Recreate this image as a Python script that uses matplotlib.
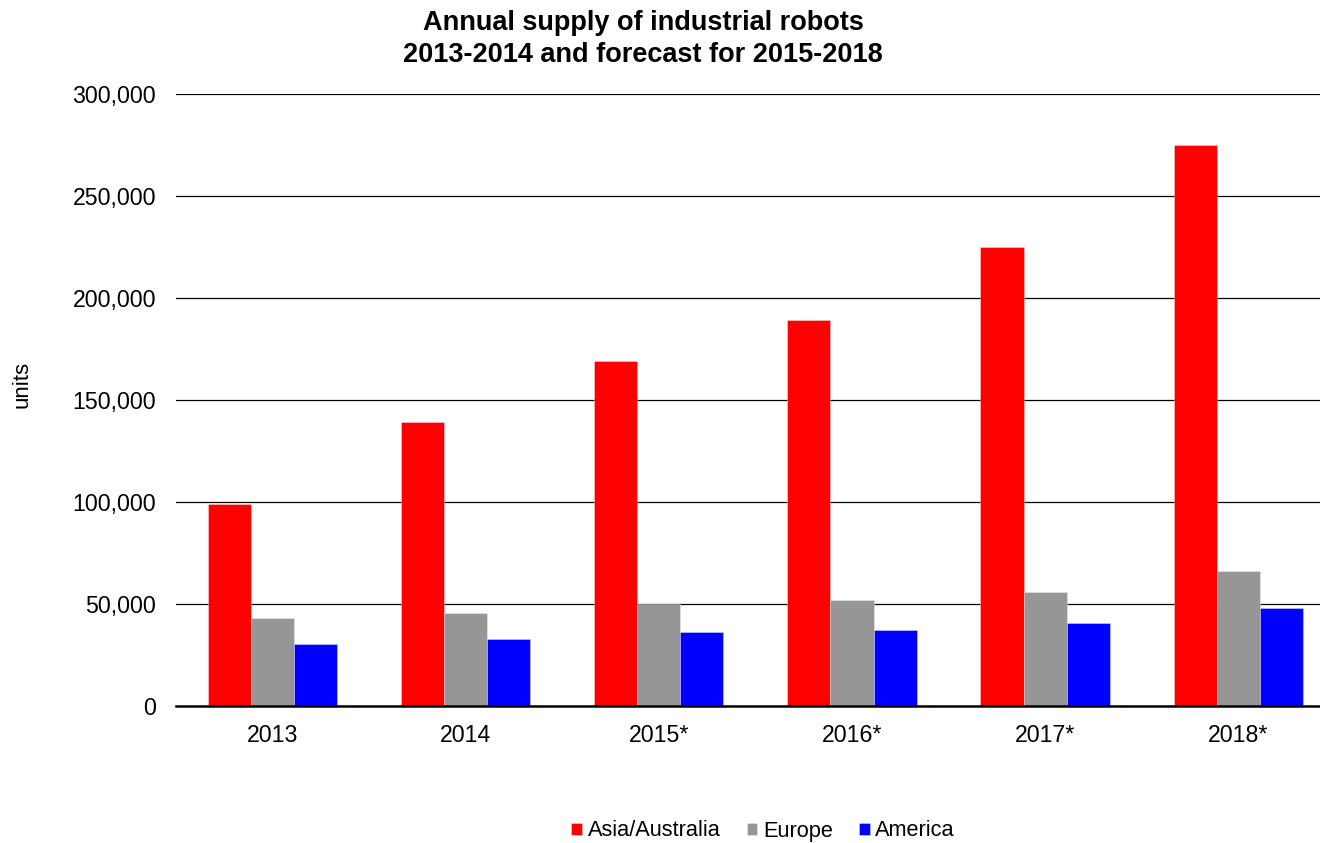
import matplotlib
matplotlib.use("Agg")
import matplotlib.pyplot as plt
import numpy as np
from matplotlib.ticker import FuncFormatter

categories = ["2013", "2014", "2015*", "2016*", "2017*", "2018*"]
asia = [98807, 139344, 169000, 189000, 225000, 275000]
europe = [43284, 45559, 50000, 52000, 56000, 66000]
america = [30317, 32616, 36500, 37500, 40500, 48000]
series_names = ["Asia/Australia", "Europe", "America"]
colors = ["#FF0000", "#969696", "#0000FF"]

plt.rcParams['font.family'] = ['Liberation Sans', 'DejaVu Sans']

fig = plt.figure(figsize=(13.2, 8.43), dpi=100)
ax = fig.add_axes([176/1320, 1 - 706/843, 1 - 176/1320, (706 - 94)/843])

x = np.arange(len(categories))
w = 0.223
for i, (vals, name, c) in enumerate(zip([asia, europe, america], series_names, colors)):
    ax.bar(x + (i - 1) * w, vals, width=w, color=c, label=name, zorder=3,
           edgecolor=(1, 1, 1, 0.4), linewidth=0.6)

ax.set_ylim(0, 300000)
ax.set_xlim(-0.5, (1320 - 176.2) / 193.1 - 0.5)
ax.set_yticks(np.arange(0, 300001, 50000))
ax.yaxis.set_major_formatter(FuncFormatter(lambda v, p: f"{int(v):,}"))
ax.set_xticks(x)
ax.set_xticklabels(categories)
ax.tick_params(axis='both', length=0, labelsize=16.7)
ax.tick_params(axis='y', pad=14.4)
ax.tick_params(axis='x', pad=13)
ax.grid(axis='y', color='black', linewidth=0.9, zorder=0)
for s in ['top', 'right', 'left']:
    ax.spines[s].set_visible(False)
ax.spines['bottom'].set_linewidth(1.8)
ax.spines['bottom'].set_zorder(4)

fig.text(22/1320, 1 - 384/843, "units", rotation=90, ha='center', va='center', fontsize=16)
fig.text(643/1320, 1 - 38.5/843, "Annual supply of industrial robots\n2013-2014 and forecast for 2015-2018",
         ha='center', va='center', fontsize=19.5, fontweight='bold', linespacing=1.3)

leg = fig.legend(loc='center', bbox_to_anchor=(763/1320, 1 - 831/843), ncol=3, frameon=False,
                 fontsize=15.7, handlelength=0.5, handleheight=0.5, handletextpad=0.25,
                 columnspacing=1.2)

fig.savefig("out.png", dpi=100)
